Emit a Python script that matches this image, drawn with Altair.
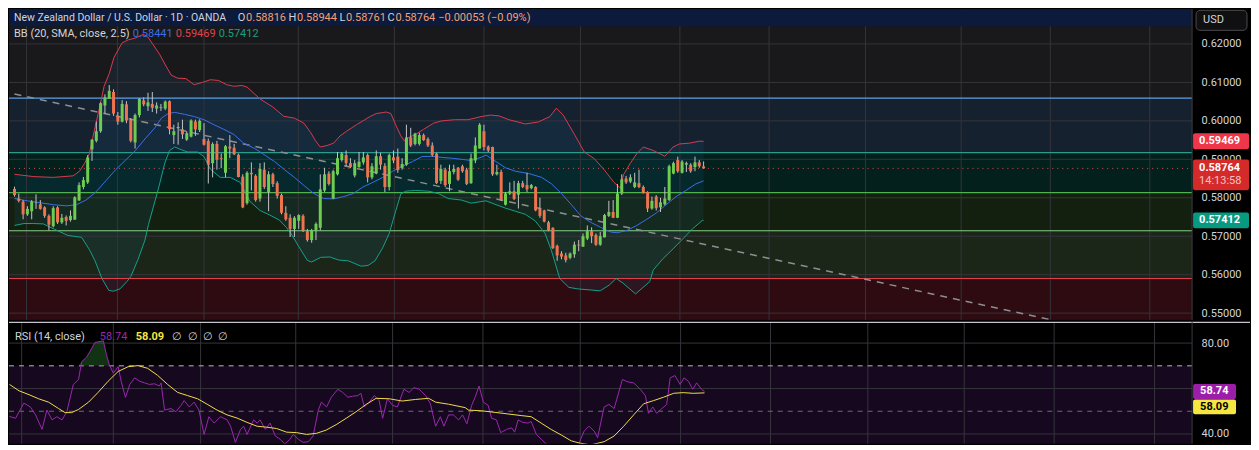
import altair as alt
import pandas as pd

# ---------------- data ----------------
OPEN = [
    0.5823, 0.5798, 0.5790, 0.5757, 0.5765, 0.5786, 0.5783, 0.5775, 0.5753, 0.5726,
    0.5775, 0.5736, 0.5750, 0.5742, 0.5743, 0.5793, 0.5828, 0.5840, 0.5926, 0.5948,
    0.5973, 0.6040, 0.6057, 0.6075, 0.6013, 0.5998, 0.6043, 0.6003, 0.5944, 0.6015,
    0.6053, 0.6038, 0.6044, 0.6032, 0.6034, 0.6032, 0.6051, 0.5963, 0.5981, 0.5978,
    0.5951, 0.5959, 0.5998, 0.5976, 0.5953, 0.5948, 0.5890, 0.5940, 0.5903, 0.5865,
    0.5933, 0.5930, 0.5912, 0.5855, 0.5786, 0.5865, 0.5857, 0.5798, 0.5873, 0.5815,
    0.5861, 0.5838, 0.5807, 0.5761, 0.5748, 0.5719, 0.5740, 0.5753, 0.5713, 0.5690,
    0.5715, 0.5722, 0.5819, 0.5863, 0.5798, 0.5861, 0.5898, 0.5911, 0.5890, 0.5858,
    0.5880, 0.5892, 0.5911, 0.5853, 0.5863, 0.5908, 0.5883, 0.5828, 0.5905, 0.5907,
    0.5878, 0.5886, 0.5957, 0.5940, 0.5940, 0.5963, 0.5953, 0.5936, 0.5915, 0.5844,
    0.5873, 0.5836, 0.5867, 0.5878, 0.5882, 0.5873, 0.5838, 0.5897, 0.5928, 0.5973,
    0.5933, 0.5932, 0.5861, 0.5867, 0.5782, 0.5811, 0.5817, 0.5808, 0.5838, 0.5833,
    0.5825, 0.5828, 0.5772, 0.5767, 0.5736, 0.5722, 0.5675, 0.5655, 0.5650, 0.5644,
    0.5653, 0.5678, 0.5673, 0.5694, 0.5713, 0.5703, 0.5678, 0.5697, 0.5753, 0.5763,
    0.5748, 0.5811, 0.5850, 0.5842, 0.5828, 0.5838, 0.5828, 0.5815, 0.5772, 0.5803,
    0.5775, 0.5783, 0.5794, 0.5863, 0.5898, 0.5865, 0.5886, 0.5886, 0.5880, 0.5892,
    0.58816,
]
HIGH = [
    0.5829, 0.5811, 0.5794, 0.5778, 0.5794, 0.5809, 0.5794, 0.5778, 0.5757, 0.5778,
    0.5778, 0.5758, 0.5754, 0.5767, 0.5804, 0.5840, 0.5854, 0.5911, 0.5952, 0.5998,
    0.6048, 0.6069, 0.6093, 0.6082, 0.6023, 0.6054, 0.6051, 0.6007, 0.6019, 0.6059,
    0.6061, 0.6073, 0.6075, 0.6048, 0.6044, 0.6053, 0.6053, 0.5990, 0.5996, 0.6003,
    0.5973, 0.6004, 0.6003, 0.6004, 0.5994, 0.5954, 0.5944, 0.5948, 0.5915, 0.5937,
    0.5963, 0.5940, 0.5915, 0.5861, 0.5869, 0.5892, 0.5861, 0.5890, 0.5892, 0.5869,
    0.5865, 0.5843, 0.5811, 0.5778, 0.5757, 0.5752, 0.5757, 0.5757, 0.5719, 0.5719,
    0.5736, 0.5861, 0.5878, 0.5869, 0.5873, 0.5919, 0.5919, 0.5923, 0.5903, 0.5898,
    0.5919, 0.5919, 0.5915, 0.5890, 0.5923, 0.5917, 0.5890, 0.5915, 0.5923, 0.5928,
    0.5903, 0.5990, 0.5982, 0.5969, 0.5969, 0.5967, 0.5957, 0.5944, 0.5917, 0.5886,
    0.5878, 0.5886, 0.5886, 0.5880, 0.5886, 0.5878, 0.5915, 0.5957, 0.5994, 0.5990,
    0.5936, 0.5933, 0.5886, 0.5873, 0.5815, 0.5840, 0.5844, 0.5844, 0.5844, 0.5865,
    0.5836, 0.5830, 0.5800, 0.5769, 0.5740, 0.5723, 0.5678, 0.5661, 0.5657, 0.5658,
    0.5686, 0.5690, 0.5707, 0.5728, 0.5723, 0.5707, 0.5711, 0.5758, 0.5792, 0.5794,
    0.5836, 0.5861, 0.5857, 0.5861, 0.5865, 0.5873, 0.5832, 0.5817, 0.5803, 0.5807,
    0.5800, 0.5828, 0.5886, 0.5894, 0.5907, 0.5898, 0.5894, 0.5890, 0.5907, 0.5898,
    0.58944,
]
LOW = [
    0.5803, 0.5788, 0.5744, 0.5753, 0.5744, 0.5771, 0.5769, 0.5748, 0.5715, 0.5723,
    0.5732, 0.5732, 0.5728, 0.5738, 0.5743, 0.5792, 0.5822, 0.5836, 0.5896, 0.5944,
    0.5969, 0.6019, 0.6057, 0.6013, 0.5990, 0.5996, 0.5994, 0.5944, 0.5928, 0.6009,
    0.6038, 0.6026, 0.6023, 0.6019, 0.6026, 0.6028, 0.5965, 0.5940, 0.5938, 0.5953,
    0.5948, 0.5957, 0.5961, 0.5971, 0.5936, 0.5837, 0.5853, 0.5873, 0.5877, 0.5853,
    0.5903, 0.5911, 0.5853, 0.5773, 0.5782, 0.5819, 0.5790, 0.5790, 0.5823, 0.5765,
    0.5828, 0.5798, 0.5757, 0.5740, 0.5698, 0.5698, 0.5719, 0.5711, 0.5686, 0.5683,
    0.5690, 0.5715, 0.5815, 0.5832, 0.5797, 0.5858, 0.5894, 0.5882, 0.5878, 0.5853,
    0.5878, 0.5886, 0.5840, 0.5848, 0.5861, 0.5873, 0.5815, 0.5819, 0.5890, 0.5865,
    0.5873, 0.5883, 0.5932, 0.5936, 0.5936, 0.5948, 0.5932, 0.5907, 0.5836, 0.5836,
    0.5828, 0.5817, 0.5861, 0.5844, 0.5865, 0.5833, 0.5836, 0.5890, 0.5928, 0.5923,
    0.5919, 0.5857, 0.5858, 0.5792, 0.5780, 0.5807, 0.5794, 0.5772, 0.5825, 0.5815,
    0.5822, 0.5765, 0.5748, 0.5736, 0.5713, 0.5667, 0.5636, 0.5640, 0.5632, 0.5640,
    0.5644, 0.5661, 0.5672, 0.5690, 0.5682, 0.5675, 0.5675, 0.5697, 0.5750, 0.5747,
    0.5747, 0.5807, 0.5836, 0.5838, 0.5825, 0.5825, 0.5811, 0.5763, 0.5769, 0.5767,
    0.5763, 0.5780, 0.5792, 0.5861, 0.5865, 0.5863, 0.5867, 0.5865, 0.5869, 0.5878,
    0.58761,
]
CLOSE = [
    0.5807, 0.5792, 0.5757, 0.5771, 0.5790, 0.5787, 0.5771, 0.5753, 0.5730, 0.5773,
    0.5736, 0.5748, 0.5740, 0.5753, 0.5801, 0.5833, 0.5846, 0.5905, 0.5951, 0.5973,
    0.6046, 0.6061, 0.6078, 0.6019, 0.5998, 0.6044, 0.6001, 0.5948, 0.6015, 0.6057,
    0.6043, 0.6048, 0.6034, 0.6040, 0.6036, 0.6050, 0.5978, 0.5973, 0.5984, 0.5965,
    0.5968, 0.6001, 0.5978, 0.6000, 0.5938, 0.5886, 0.5940, 0.5899, 0.5901, 0.5934,
    0.5928, 0.5913, 0.5854, 0.5775, 0.5865, 0.5861, 0.5794, 0.5875, 0.5828, 0.5861,
    0.5836, 0.5805, 0.5761, 0.5744, 0.5719, 0.5748, 0.5755, 0.5715, 0.5690, 0.5715,
    0.5732, 0.5822, 0.5861, 0.5836, 0.5869, 0.5903, 0.5915, 0.5890, 0.5880, 0.5890,
    0.5894, 0.5905, 0.5853, 0.5882, 0.5908, 0.5886, 0.5828, 0.5911, 0.5897, 0.5872,
    0.5888, 0.5957, 0.5936, 0.5967, 0.5963, 0.5950, 0.5936, 0.5911, 0.5838, 0.5875,
    0.5833, 0.5869, 0.5875, 0.5847, 0.5869, 0.5836, 0.5903, 0.5936, 0.5990, 0.5932,
    0.5923, 0.5861, 0.5867, 0.5794, 0.5811, 0.5817, 0.5797, 0.5838, 0.5828, 0.5822,
    0.5833, 0.5767, 0.5753, 0.5738, 0.5715, 0.5669, 0.5650, 0.5647, 0.5638, 0.5655,
    0.5678, 0.5676, 0.5700, 0.5713, 0.5700, 0.5678, 0.5700, 0.5755, 0.5763, 0.5748,
    0.5811, 0.5848, 0.5840, 0.5853, 0.5840, 0.5828, 0.5813, 0.5772, 0.5792, 0.5773,
    0.5788, 0.5798, 0.5882, 0.5890, 0.5869, 0.5894, 0.5890, 0.5869, 0.5892, 0.5882,
    0.58764,
]

# Bollinger bands (bar index, price)
BB_UPPER = [
    (0, 0.5861), (4.5, 0.5855), (9, 0.5853), (13.6, 0.5857), (15.1, 0.5869), (16.3, 0.5890),
    (17.4, 0.5915), (18.5, 0.5973), (19.7, 0.6032), (20.8, 0.6090), (22, 0.6123), (23.1, 0.6165),
    (25, 0.6203), (26.5, 0.6211), (28, 0.6215), (29.9, 0.6225), (30.9, 0.6219), (32.2, 0.6198),
    (33.7, 0.6173), (35.3, 0.6140), (36.4, 0.6119), (37.9, 0.6111), (39.8, 0.6110), (41.7, 0.6094),
    (43.6, 0.6100), (45.5, 0.6107), (47.4, 0.6105), (49.3, 0.6094), (50.9, 0.6090), (52.8, 0.6092),
    (54, 0.6088), (57, 0.6057), (60, 0.6036), (62.5, 0.6012), (65, 0.6007), (67.2, 0.5994),
    (68.8, 0.5969), (69.9, 0.5948), (71, 0.5932), (72.6, 0.5936), (74.1, 0.5942), (75.6, 0.5961),
    (77.1, 0.5973), (79.4, 0.5990), (80.9, 0.6000), (82.5, 0.6011), (84, 0.6019), (86.3, 0.6023),
    (87.4, 0.6019), (88.5, 0.5990), (89.7, 0.5961), (90.5, 0.5948), (91.6, 0.5957), (93.1, 0.5965),
    (95, 0.5978), (97.3, 0.5994), (99.2, 0.6000), (102.2, 0.6003), (105.3, 0.6003), (108.3, 0.6011),
    (110.5, 0.6015), (112.5, 0.6013), (114.8, 0.6003), (118.6, 0.5992), (121.6, 0.5997), (124.3, 0.6011),
    (125.8, 0.6033), (127.4, 0.6015), (130, 0.5965), (132.3, 0.5919), (134.6, 0.5902), (136.9, 0.5873),
    (139.2, 0.5840), (140.7, 0.5825), (141.4, 0.5860), (143, 0.5890), (144.5, 0.5915), (146, 0.5932),
    (148.3, 0.5923), (151, 0.5908), (152.9, 0.5932), (154.4, 0.5940), (156.7, 0.5942), (158.9, 0.5947),
    (160, 0.5947),
]
BB_BASIS = [
    (0, 0.5798), (3, 0.5792), (6, 0.5787), (9, 0.5782), (12.1, 0.5779), (14.4, 0.5782),
    (16.6, 0.5794), (18.9, 0.5815), (21.2, 0.5844), (23.5, 0.5873), (25.8, 0.5898), (28.1, 0.5923),
    (30.3, 0.5953), (32.6, 0.5982), (34.1, 0.6007), (35.7, 0.6019), (37.2, 0.6022), (39.5, 0.6017),
    (41.8, 0.6011), (44, 0.6003), (46.3, 0.5990), (48.6, 0.5978), (50.9, 0.5965), (53.2, 0.5942),
    (55.8, 0.5928), (58.1, 0.5911), (60.4, 0.5894), (62.7, 0.5873), (65, 0.5853), (67.2, 0.5832),
    (69.5, 0.5811), (71.8, 0.5798), (74.1, 0.5797), (76.4, 0.5803), (78.7, 0.5811), (80.9, 0.5828),
    (83.2, 0.5840), (85.5, 0.5853), (87.8, 0.5869), (90.1, 0.5882), (92.4, 0.5894), (94.6, 0.5907),
    (96.9, 0.5908), (99.2, 0.5905), (101.5, 0.5903), (103.8, 0.5900), (106, 0.5897), (108.3, 0.5905),
    (109.5, 0.5911), (111.8, 0.5894), (114, 0.5878), (116.3, 0.5869), (119.4, 0.5863), (122.4, 0.5853),
    (124.7, 0.5836), (127, 0.5811), (129.3, 0.5782), (131.5, 0.5753), (133.8, 0.5736), (136.1, 0.5723),
    (138.4, 0.5711), (139.9, 0.5709), (142.2, 0.5715), (144.5, 0.5728), (146.8, 0.5744), (149.1, 0.5761),
    (151.3, 0.5782), (153.6, 0.5803), (155.9, 0.5819), (158.2, 0.5836), (160, 0.5844),
]
BB_LOWER = [
    (0, 0.5728), (2.2, 0.5733), (4.5, 0.5733), (6.7, 0.5732), (9.3, 0.5718), (12.4, 0.5702),
    (15.6, 0.5697), (17.4, 0.5665), (18.7, 0.5636), (20.3, 0.5590), (21.9, 0.5559), (23, 0.5557),
    (24.5, 0.5563), (26.1, 0.5582), (27, 0.5595), (28.7, 0.5640), (30.3, 0.5690), (31.1, 0.5730),
    (33.4, 0.5823), (34.9, 0.5890), (36, 0.5923), (37.2, 0.5932), (38.7, 0.5925), (40.2, 0.5919),
    (42.5, 0.5919), (44, 0.5907), (45.6, 0.5873), (47.8, 0.5853), (50.1, 0.5853), (52.4, 0.5840),
    (54.7, 0.5790), (57, 0.5767), (59.3, 0.5755), (61.5, 0.5742), (63.1, 0.5723), (64.2, 0.5707),
    (65.9, 0.5675), (68, 0.5637), (69, 0.5633), (71.1, 0.5645), (73.2, 0.5646), (75.3, 0.5638),
    (77.5, 0.5636), (80.5, 0.5622), (82.1, 0.5624), (83.7, 0.5636), (85.5, 0.5670), (87, 0.5707),
    (88.5, 0.5765), (89.7, 0.5810), (90.8, 0.5817), (93.1, 0.5819), (96.2, 0.5817), (98.4, 0.5811),
    (100.7, 0.5798), (103.8, 0.5794), (106, 0.5786), (108.3, 0.5790), (109.5, 0.5792), (111.8, 0.5782),
    (114, 0.5773), (116.3, 0.5765), (118.6, 0.5757), (120.9, 0.5740), (123.2, 0.5707), (124.6, 0.5665),
    (126.6, 0.5590), (128.7, 0.5567), (130.8, 0.5563), (136, 0.5558), (138.1, 0.5573), (139.7, 0.5590),
    (141.3, 0.5578), (144.2, 0.5550), (147.5, 0.5582), (148.3, 0.5612), (150.6, 0.5642), (152.9, 0.5667),
    (155.1, 0.5692), (157.4, 0.5719), (159.7, 0.5741), (160, 0.5741),
]

# RSI(14) and its moving average (bar index, value)
RSI = [
    (0, 47.7), (1.4, 46.9), (3.3, 53.6), (4.8, 51.9), (6, 48.4), (7.5, 42.0), (8.6, 50.5),
    (9.8, 46.2), (10.9, 47.6), (12.1, 46.2), (13.2, 49.8), (14.7, 61.8), (15.9, 64.0), (16.6, 71.8),
    (17.8, 73.9), (19.7, 80.3), (21.6, 81.0), (22.3, 75.0), (23, 70.4), (23.9, 66.8), (25, 69.6),
    (25.8, 62.5), (26.7, 56.1), (27.7, 61.8), (28.8, 64.7), (30, 63.2), (31.1, 62.5), (32.2, 61.8),
    (33.4, 62.1), (34.5, 61.1), (34.9, 62.5), (35.7, 50.5), (37.2, 51.2), (38.3, 49.8), (39.5, 52.6),
    (40.2, 54.7), (41.4, 51.9), (42.5, 54.0), (43.6, 50.5), (44.8, 39.8), (45.9, 47.6), (47.1, 44.8),
    (48.6, 47.6), (50.1, 46.2), (50.9, 43.4), (52, 36.3), (53.2, 42.0), (53.9, 43.4), (54.7, 39.8),
    (56.2, 46.2), (57, 44.8), (57.7, 46.2), (58.9, 42.0), (60, 44.8), (61.2, 39.1), (62.3, 37.7),
    (63.4, 35.6), (64.6, 37.7), (65.3, 39.8), (66.5, 37.7), (67.6, 36.3), (68.8, 36.6), (69.9, 39.1),
    (71.1, 50.5), (71.8, 54.0), (73, 51.9), (74.1, 56.2), (75.6, 59.7), (76.7, 58.3), (77.9, 56.2),
    (79, 56.6), (80.2, 56.9), (80.9, 57.9), (81.7, 51.9), (82.8, 54.0), (84, 56.9), (85.1, 54.7),
    (85.9, 46.9), (87, 55.5), (88.2, 52.6), (89.3, 51.9), (90.8, 59.7), (92, 58.3), (93.1, 60.4),
    (94.3, 59.7), (95.8, 56.9), (96.9, 53.3), (98.1, 43.4), (99.2, 47.6), (100, 43.4), (101.1, 48.4),
    (102.2, 48.4), (103.4, 46.2), (104.3, 48.4), (105.3, 44.5), (106.4, 52.6), (107.2, 56.2),
    (108.1, 61.1), (109.1, 54.0), (110.2, 52.6), (111, 46.9), (112.1, 46.2), (113.1, 40.6),
    (114.4, 42.0), (115.6, 42.7), (116.3, 40.8), (117.1, 46.2), (118.2, 45.1), (119.4, 44.8),
    (120.1, 45.5), (121.3, 39.8), (122.4, 37.7), (123.6, 35.6), (125, 32.5), (126, 30.5), (127, 30.0),
    (128, 29.0), (129, 30.5), (130, 33.5), (131, 35.0), (131.5, 37.7), (132.3, 41.3), (133.4, 43.4),
    (134.6, 41.3), (135.4, 38.4), (136.9, 51.9), (138, 53.0), (139.2, 51.2), (141.1, 64.0),
    (142.2, 63.0), (143.7, 62.5), (145.2, 59.7), (146.4, 56.9), (147.1, 49.1), (148.1, 51.9),
    (149, 49.1), (150.2, 51.2), (151.3, 53.0), (152.1, 64.7), (153.2, 65.7), (154.4, 61.8),
    (155.3, 64.7), (156.3, 63.2), (157.3, 59.7), (158.2, 62.5), (159.3, 59.7), (160, 58.74),
]
RSI_MA = [
    (0, 61.8), (2.2, 59.0), (4.5, 57.3), (6.7, 55.5), (9, 54.0), (11.3, 51.2), (12.8, 49.4),
    (14.3, 49.4), (15.9, 50.8), (18.2, 54.0), (20.4, 58.3), (22.7, 63.2), (25, 67.5), (27.3, 69.6),
    (29.6, 70.1), (31.8, 68.9), (34.1, 65.8), (36.4, 61.8), (38.7, 58.3), (41, 56.9), (43.3, 55.5),
    (45.5, 53.1), (47.8, 50.5), (50.1, 48.4), (52.4, 47.0), (54.7, 45.1), (57, 43.4), (59.2, 43.0),
    (61.5, 42.4), (63.8, 40.8), (66.1, 40.6), (68.4, 39.8), (70.7, 40.3), (72.9, 41.7), (75.2, 44.1),
    (77.5, 46.9), (79.8, 49.8), (82.1, 53.0), (84.4, 55.7), (87.4, 55.5), (90.4, 54.5), (93.5, 55.2),
    (96.5, 55.7), (98.1, 54.0), (101.1, 53.1), (104.9, 51.6), (105.7, 50.5), (108.7, 50.2),
    (111.8, 49.5), (114.8, 48.8), (117.8, 48.1), (120.1, 47.6), (122.4, 44.8), (124.7, 42.0),
    (127, 39.6), (129.3, 37.0), (131.2, 36.0), (133.8, 35.2), (136.9, 36.6), (139.2, 39.1),
    (141.4, 43.4), (143.7, 48.4), (146, 53.3), (148.3, 54.7), (150.6, 56.2), (152.9, 57.9),
    (155.1, 58.2), (157.4, 57.9), (160, 58.09),
]

LEVELS = [0.60592, 0.59175, 0.58133, 0.57142, 0.559]
TREND = [(0, 0.6070), (240.5, 0.5483)]
PRICE_TICKS = [0.55, 0.56, 0.57, 0.58, 0.59, 0.60, 0.61, 0.62]
RSI_TICKS = [40, 80]
RSI_GRID = [40, 60, 80]
RSI_BANDS = [70, 50]
MONTH_BARS = [2.8, 23.9, 44, 65.9, 88.2, 109, 131.4, 154.5, 175.2, 197.6, 219.8, 240.5, 263.6]
LAST_PRICE = 0.58764
BB_LAST = {"basis": 0.58441, "upper": 0.59469, "lower": 0.57412}
RSI_LAST = 58.74
RSI_MA_LAST = 58.09

# ---------------- styling / layout ----------------
FONT = "Roboto"
W, H1, H2 = 1185, 311, 122
XDOM = [-0.114, 272.26]
YDOM = [0.54825, 0.629]
RDOM = [35.74, 89.36]
P_PER_PX = (YDOM[1] - YDOM[0]) / H1
R_PER_PX = (RDOM[1] - RDOM[0]) / H2

BG = "#19191b"
GRID = "#34343a"
UP, DOWN = "#6ecd50", "#f07350"
ZONE_COLORS = ["#15212f", "#03201c", "#13200f", "#1b2618", "#2d0b11"]
LEVEL_COLORS = ["#5aa0e6", "#2a9d8a", "#4fb24f", "#86cf86", "#e0404e"]
TXT = "#d1d4dc"
ORANGE = "#f5a070"

xs = alt.Scale(domain=XDOM, nice=False, zero=False)
ys = alt.Scale(domain=YDOM, nice=False, zero=False)
rs = alt.Scale(domain=RDOM, nice=False, zero=False)

PAXIS = alt.Axis(orient="right", values=PRICE_TICKS, format=".5f", grid=False, ticks=False,
                 domain=False, labelColor=TXT, labelFont=FONT, labelFontSize=11,
                 labelPadding=9, labelOverlap=False, title=None)
RAXIS = alt.Axis(orient="right", values=RSI_TICKS, format=".2f", grid=False, ticks=False,
                 domain=False, labelColor=TXT, labelFont=FONT, labelFontSize=11,
                 labelPadding=9, labelOverlap=False, title=None)


def X(f):
    return alt.X(f"{f}:Q", scale=xs, axis=None)


def PY(f):
    return alt.Y(f"{f}:Q", scale=ys, axis=PAXIS)


def RY(f):
    return alt.Y(f"{f}:Q", scale=rs, axis=RAXIS)


def one():
    return pd.DataFrame({"a": [0]})


def txt(s, x, y, color, size=11, weight="normal", align="left"):
    return alt.Chart(pd.DataFrame({"t": [s]})).mark_text(
        align=align, baseline="middle", font=FONT, fontSize=size, fontWeight=weight, color=color
    ).encode(x=alt.value(x), y=alt.value(y), text="t:N")


def pairs(lst):
    return pd.DataFrame(lst, columns=["i", "v"])


# ---------------- price panel ----------------
candles = pd.DataFrame({"i": list(range(len(CLOSE))), "o": OPEN, "h": HIGH, "l": LOW, "c": CLOSE})
candles["dir"] = ["up" if c >= o else "down" for o, c in zip(OPEN, CLOSE)]

layers = []
layers.append(alt.Chart(one()).mark_rect(color=BG).encode(
    x=alt.value(0), x2=alt.value(W), y=alt.value(0), y2=alt.value(H1)))

bottoms = LEVELS[1:] + [YDOM[0]]
for k in range(len(LEVELS)):
    zdf = pd.DataFrame({"top": [LEVELS[k]], "bot": [bottoms[k]]})
    layers.append(alt.Chart(zdf).mark_rect(color=ZONE_COLORS[k]).encode(
        x=alt.value(0), x2=alt.value(W), y=PY("top"), y2="bot"))

up_df, lo_df = pairs(BB_UPPER), pairs(BB_LOWER)
poly = pd.concat([up_df.assign(ord=range(len(up_df))),
                  lo_df.iloc[::-1].assign(ord=range(len(up_df), len(up_df) + len(lo_df)))])
layers.append(alt.Chart(poly).mark_line(fill="#2196f3", fillOpacity=0.08, strokeOpacity=0,
                                        strokeWidth=0).encode(x=X("i"), y=PY("v"), order="ord:Q"))

layers.append(alt.Chart(pd.DataFrame({"p": PRICE_TICKS})).mark_rule(color=GRID, strokeWidth=1).encode(
    y=PY("p"), x=alt.value(0), x2=alt.value(W)))
layers.append(alt.Chart(pd.DataFrame({"m": MONTH_BARS})).mark_rule(color=GRID, strokeWidth=1).encode(
    x=X("m"), y=alt.value(0), y2=alt.value(H1)))

for k, lv in enumerate(LEVELS):
    layers.append(alt.Chart(pd.DataFrame({"p": [lv]})).mark_rule(color=LEVEL_COLORS[k], strokeWidth=1.2).encode(
        y=PY("p"), x=alt.value(0), x2=alt.value(W)))

layers.append(alt.Chart(pairs(TREND)).mark_line(color="#8e8e92", strokeWidth=1.5, strokeDash=[7, 6],
                                                clip=True).encode(x=X("i"), y=PY("v")))
layers.append(alt.Chart(pd.DataFrame({"p": [LAST_PRICE]})).mark_rule(
    color="#e0504e", strokeWidth=1, strokeDash=[1, 4]).encode(y=PY("p"), x=alt.value(0), x2=alt.value(W)))

layers.append(alt.Chart(pairs(BB_UPPER)).mark_line(color="#d83a4c", strokeWidth=1).encode(x=X("i"), y=PY("v")))
layers.append(alt.Chart(pairs(BB_BASIS)).mark_line(color="#3a6ee8", strokeWidth=1).encode(x=X("i"), y=PY("v")))
layers.append(alt.Chart(pairs(BB_LOWER)).mark_line(color="#15a08a", strokeWidth=1).encode(x=X("i"), y=PY("v")))

layers.append(alt.Chart(candles).mark_rule(color="#c4c4c4", strokeWidth=1).encode(
    x=X("i"), y=PY("l"), y2="h"))
layers.append(alt.Chart(candles).mark_bar(size=3).encode(
    x=X("i"), y=PY("o"), y2="c",
    color=alt.Color("dir:N", scale=alt.Scale(domain=["up", "down"], range=[UP, DOWN]), legend=None)))

# header bar
layers.append(alt.Chart(one()).mark_rect(color="#0c1a3c").encode(
    x=alt.value(0), x2=alt.value(W), y=alt.value(0), y2=alt.value(17)))
layers.append(txt("New Zealand Dollar / U.S. Dollar · 1D · OANDA", 5, 8.5, TXT, size=10.5))
for lab, val, x, off in [("O", "0.58816", 229, 8.5), ("H", "0.58944", 280, 8.5),
                         ("L", "0.58761", 331, 6.5), ("C", "0.58764", 379, 8)]:
    layers.append(txt(lab, x, 8.5, TXT))
    layers.append(txt(val, x + off, 8.5, ORANGE))
layers.append(txt("−0.00053 (−0.09%)", 430, 8.5, ORANGE))
# BB legend
layers.append(txt("BB (20, SMA, close, 2.5)", 5, 25, TXT))
layers.append(txt(f"{BB_LAST['basis']:.5f}", 124, 25, "#3a6ee8"))
layers.append(txt(f"{BB_LAST['upper']:.5f}", 167, 25, "#e0414f"))
layers.append(txt(f"{BB_LAST['lower']:.5f}", 210, 25, "#16a086"))

# right separator
layers.append(alt.Chart(one()).mark_rule(color="#3c3c42", strokeWidth=1).encode(
    x=alt.value(W), y=alt.value(0), y2=alt.value(H1)))

# USD box
layers.append(alt.Chart(one()).mark_rect(fill="#101010", stroke="#4a4a50", strokeWidth=1, cornerRadius=4).encode(
    x=alt.value(W + 4), x2=alt.value(W + 55), y=alt.value(1), y2=alt.value(21)))
layers.append(txt("USD", W + 11, 11, TXT))

# price tags on the axis
half = 8 * P_PER_PX
tags = [(BB_LAST["upper"], "#f0364a"), (BB_LAST["basis"], "#2962ff"), (BB_LAST["lower"], "#089981")]
for p, col in tags:
    tdf = pd.DataFrame({"p": [p], "top": [p + half], "bot": [p - half], "t": [f"{p:.5f}"]})
    layers.append(alt.Chart(tdf).mark_rect(color=col, cornerRadius=2).encode(
        x=alt.value(W + 1), x2=alt.value(W + 57), y=PY("top"), y2="bot"))
    layers.append(alt.Chart(tdf).mark_text(align="left", baseline="middle", font=FONT, fontSize=11,
                                           fontWeight="bold", color="#ffffff").encode(
        x=alt.value(W + 7), y=PY("p"), text="t:N"))
# last price tag with countdown
ldf = pd.DataFrame({"top": [LAST_PRICE + 9 * P_PER_PX], "bot": [LAST_PRICE - 22 * P_PER_PX],
                    "p1": [LAST_PRICE + 0.5 * P_PER_PX], "p2": [LAST_PRICE - 13 * P_PER_PX],
                    "t1": [f"{LAST_PRICE:.5f}"], "t2": ["14:13:58"]})
layers.append(alt.Chart(ldf).mark_rect(color="#d42a2a", cornerRadius=2).encode(
    x=alt.value(W + 1), x2=alt.value(W + 57), y=PY("top"), y2="bot"))
layers.append(alt.Chart(ldf).mark_text(align="left", baseline="middle", font=FONT, fontSize=11,
                                       fontWeight="bold", color="#ffffff").encode(
    x=alt.value(W + 7), y=PY("p1"), text="t1:N"))
layers.append(alt.Chart(ldf).mark_text(align="left", baseline="middle", font=FONT, fontSize=11,
                                       color="#f6c4c4").encode(
    x=alt.value(W + 7), y=PY("p2"), text="t2:N"))

price = alt.layer(*layers).properties(width=W, height=H1)

# ---------------- RSI panel ----------------
rl = []
rl.append(alt.Chart(pd.DataFrame({"a": [70], "b": [RDOM[0]]})).mark_rect(color="#16091f").encode(
    x=alt.value(0), x2=alt.value(W), y=RY("a"), y2="b"))
rl.append(alt.Chart(pd.DataFrame({"r": RSI_GRID})).mark_rule(color=GRID, strokeWidth=1).encode(
    y=RY("r"), x=alt.value(0), x2=alt.value(W)))
rl.append(alt.Chart(pd.DataFrame({"m": MONTH_BARS})).mark_rule(color=GRID, strokeWidth=1).encode(
    x=X("m"), y=alt.value(0), y2=alt.value(H2)))
rl.append(alt.Chart(pd.DataFrame({"r": [RSI_BANDS[0]]})).mark_rule(color="#b9b6c0", strokeWidth=1,
                                                                    strokeDash=[5, 5]).encode(
    y=RY("r"), x=alt.value(0), x2=alt.value(W)))
rl.append(alt.Chart(pd.DataFrame({"r": [RSI_BANDS[1]]})).mark_rule(color="#6e6a78", strokeWidth=1,
                                                                    strokeDash=[5, 5]).encode(
    y=RY("r"), x=alt.value(0), x2=alt.value(W)))
rl.append(alt.Chart(pairs(RSI)).transform_calculate(top="max(datum.v, 70)", base="70").mark_area(
    color="#2e7d32", opacity=0.4, clip=True).encode(x=X("i"), y=RY("top"), y2="base:Q"))
rl.append(alt.Chart(pairs(RSI)).mark_line(color="#9c27b0", strokeWidth=1, clip=True).encode(
    x=X("i"), y=RY("v")))
rl.append(alt.Chart(pairs(RSI_MA)).mark_line(color="#f0dc4b", strokeWidth=1, clip=True).encode(
    x=X("i"), y=RY("v")))

rl.append(txt("RSI (14, close)", 6, 15, TXT))
rl.append(txt(f"{RSI_LAST:.2f}", 91, 15, "#9c27b0"))
rl.append(txt(f"{RSI_MA_LAST:.2f}", 127, 15, "#f5e642", weight="bold"))
for x in [163, 179, 194, 209]:
    rl.append(txt("∅", x, 15, TXT))

# separators
rl.append(alt.Chart(one()).mark_rule(color="#c9c2cc", strokeWidth=1.2).encode(
    x=alt.value(0), x2=alt.value(W + 58), y=alt.value(0.6)))
rl.append(alt.Chart(one()).mark_rule(color="#3c3c42", strokeWidth=1).encode(
    x=alt.value(W), y=alt.value(0), y2=alt.value(H2)))

# RSI tags
rh = 7.5 * R_PER_PX
for val, center, bg, fg in [(RSI_LAST, RSI_LAST, "#9c1ea8", "#ffffff"),
                            (RSI_MA_LAST, RSI_LAST - 15.5 * R_PER_PX, "#f5e642", "#000000")]:
    tdf = pd.DataFrame({"p": [center], "top": [center + rh], "bot": [center - rh], "t": [f"{val:.2f}"]})
    rl.append(alt.Chart(tdf).mark_rect(color=bg, cornerRadius=2).encode(
        x=alt.value(W + 1), x2=alt.value(W + 44), y=RY("top"), y2="bot"))
    rl.append(alt.Chart(tdf).mark_text(align="left", baseline="middle", font=FONT, fontSize=11,
                                       fontWeight="bold", color=fg).encode(
        x=alt.value(W + 8), y=RY("p"), text="t:N"))

rsi = alt.layer(*rl).properties(width=W, height=H2)

chart = alt.vconcat(price, rsi, spacing=0).properties(
    padding=0, background="#000000"
).configure_view(strokeWidth=0)

chart.save("out.html", embed_options={"renderer": "svg", "actions": False})
